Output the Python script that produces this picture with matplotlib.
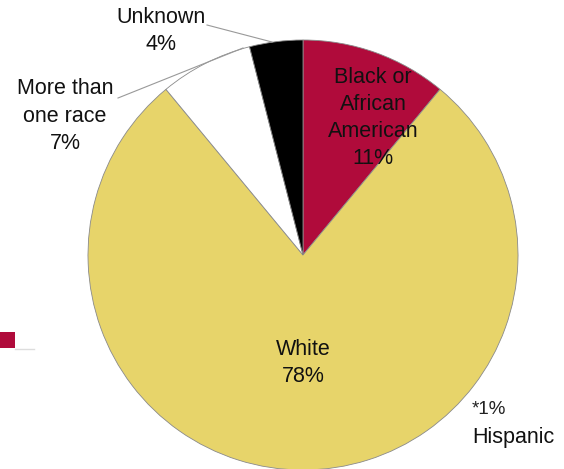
import matplotlib.pyplot as plt
from matplotlib.patches import Rectangle

# Pie data (clockwise from 12 o'clock)
categories = ["Black or\nAfrican\nAmerican", "White", "More than\none race", "Unknown"]
shares = [11, 78, 7, 4]
colors = ["#B00B3B", "#E7D46A", "#FFFFFF", "#000000"]

plt.rcParams["font.family"] = ["Liberation Sans", "DejaVu Sans"]

fig = plt.figure(figsize=(5.64, 4.69), dpi=100)
ax = fig.add_axes([0, 0, 1, 1])

# center / radius in pixel coords (y flipped axis)
cx, cy, r = 303, 255, 215
wedges, _ = ax.pie(shares, colors=colors, startangle=-90, counterclock=True,
                   center=(cx, cy), radius=r, frame=True,
                   wedgeprops=dict(edgecolor="#8a8a8a", linewidth=0.6))
ax.set_xlim(0, 564)
ax.set_ylim(469, 0)
ax.set_aspect("equal")
ax.axis("off")

fs = 15.5
ls = 1.38
ax.text(373, 118, f"{categories[0]}\n{shares[0]}%", ha="center", va="center",
        fontsize=fs, color="#111111", linespacing=ls)
ax.text(303, 363, f"{categories[1]}\n{shares[1]}%", ha="center", va="center",
        fontsize=fs, color="#111111", linespacing=ls)
ax.text(65, 116, f"{categories[2]}\n{shares[2]}%", ha="center", va="center",
        fontsize=fs, color="#111111", linespacing=ls)
ax.text(161, 31, f"{categories[3]}\n{shares[3]}%", ha="center", va="center",
        fontsize=fs, color="#111111", linespacing=ls)

# leader lines
ax.plot([207, 272], [25, 42], color="#999999", lw=0.8)
ax.plot([118, 243], [98, 48], color="#999999", lw=0.8)

ax.text(472, 410, "*1%", ha="left", va="center", fontsize=13.5, color="#222222")
ax.text(472, 437, "Hispanic", ha="left", va="center", fontsize=fs, color="#111111")

# legend remnant at left edge
ax.add_patch(Rectangle((0, 332), 15, 16, facecolor="#B00B3B", edgecolor="none"))
ax.plot([15, 34], [349, 349], color="#dddddd", lw=1)

fig.savefig("out.png", dpi=100)
